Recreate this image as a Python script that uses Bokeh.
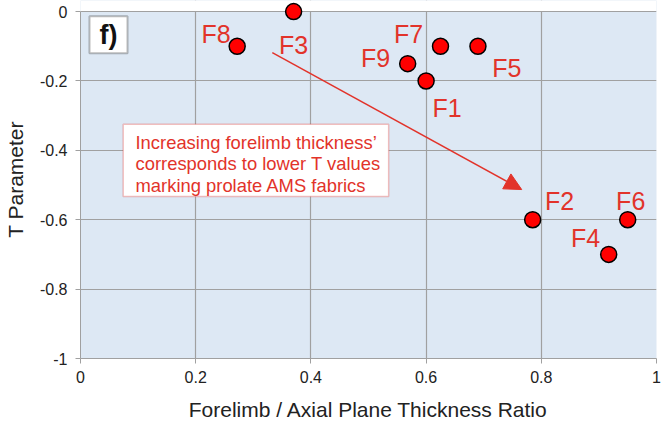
from bokeh.plotting import figure
from bokeh.models import (ColumnDataSource, Label, BoxAnnotation, Arrow, NormalHead,
                          FixedTicker, LabelSet, Range1d)
from bokeh.core.properties import value
from bokeh.embed import file_html
from bokeh.resources import INLINE

names = ["F1", "F2", "F3", "F4", "F5", "F6", "F7", "F8", "F9"]
ratio = [0.60, 0.785, 0.37, 0.917, 0.69, 0.95, 0.625, 0.272, 0.568]
t_param = [-0.2, -0.6, 0.0, -0.7, -0.1, -0.6, -0.1, -0.1, -0.15]
# label offsets in screen pixels (dx, dy) relative to each point
label_dx = [21, 27, 0, -23, 29, 3, -32, -21, -32]
label_dy = [-27, 19, -33, 16, -22, 19, 12, 12, 6]

x_ticks = [0, 0.2, 0.4, 0.6, 0.8, 1]
y_ticks = [-1, -0.8, -0.6, -0.4, -0.2, 0]

RED = "#e2332a"
FONT = "Liberation Sans"
GRID = "#a0a0a0"

p = figure(width=670, height=425, output_backend="svg", toolbar_location=None,
           x_range=Range1d(0, 1), y_range=Range1d(-1, 0.032),
           min_border_left=80, min_border_right=14, min_border_top=0, min_border_bottom=67)
p.background_fill_color = "#dde8f4"
p.border_fill_color = "white"
p.outline_line_color = None

for ax in (p.xaxis[0], p.yaxis[0]):
    ax.axis_line_color = GRID
    ax.major_tick_line_color = GRID
    ax.minor_tick_line_color = None
    ax.major_tick_out = 5
    ax.major_tick_in = 0
    ax.major_label_text_font = FONT
    ax.major_label_text_font_size = "16px"
    ax.major_label_text_color = "#222222"
    ax.axis_label_text_font = FONT
    ax.axis_label_text_font_size = "21px"
    ax.axis_label_text_font_style = "normal"
    ax.axis_label_text_color = "#222222"

p.xaxis.ticker = FixedTicker(ticks=x_ticks)
p.yaxis.ticker = FixedTicker(ticks=y_ticks)
p.yaxis.bounds = (-1, 0)
p.xaxis.major_label_overrides = {0: "0", 0.2: "0.2", 0.4: "0.4", 0.6: "0.6", 0.8: "0.8", 1: "1"}
p.yaxis.major_label_overrides = {-1: "-1", -0.8: "-0.8", -0.6: "-0.6", -0.4: "-0.4", -0.2: "-0.2", 0: "0"}
p.xaxis.axis_label = "Forelimb / Axial Plane Thickness Ratio"
p.yaxis.axis_label = "T Parameter"
p.xaxis.major_label_standoff = 7
p.xaxis.axis_label_standoff = 12
p.yaxis.major_label_standoff = 8
p.yaxis.axis_label_standoff = 10

p.grid.grid_line_color = GRID
p.grid.grid_line_width = 1.2

# white cover over the area above T = 0 (keeps the F3 marker unclipped)
p.add_layout(BoxAnnotation(bottom=0.0018, fill_color="white", fill_alpha=1,
                           line_color=None, level="underlay"))

src = ColumnDataSource(dict(x=ratio, y=t_param, name=names, dx=label_dx, dy=label_dy))
p.scatter("x", "y", source=src, size=16, fill_color="#ff0000", line_color="black", line_width=1.5)

labels = LabelSet(x="x", y="y", text="name", source=src, x_offset="dx", y_offset="dy",
                  text_font=value(FONT), text_font_size="25px", text_color=RED,
                  text_align="center", text_baseline="middle")
p.add_layout(labels)

# annotation arrow
p.add_layout(Arrow(end=NormalHead(size=17, fill_color=RED, line_color=RED),
                   x_start=0.333, y_start=-0.118, x_end=0.766, y_end=-0.513,
                   line_color=RED, line_width=1.5))

# annotation text box
p.add_layout(BoxAnnotation(left=0.0741, right=0.535, top=-0.325, bottom=-0.533,
                           fill_color="white", fill_alpha=1, line_color=RED, line_width=1.5))
for i, line in enumerate(["Increasing forelimb thickness\u2019",
                          "corresponds to lower T values",
                          "marking prolate AMS fabrics"]):
    p.add_layout(Label(x=0.0955, y=-0.3772 - i * 0.0615, text=line, text_font=FONT,
                       text_font_size="18.4px", text_color=RED, text_baseline="middle"))

# panel tag
p.add_layout(BoxAnnotation(left=0.0156, right=0.0816, top=-0.0136, bottom=-0.120,
                           fill_color="white", fill_alpha=1, line_color="#222222", line_width=2))
p.add_layout(Label(x=0.0486, y=-0.067, text="f)", text_font=FONT, text_font_size="27px",
                   text_font_style="bold", text_color="#111111", text_align="center",
                   text_baseline="middle"))

open("out.html", "w").write(file_html(p, INLINE))
